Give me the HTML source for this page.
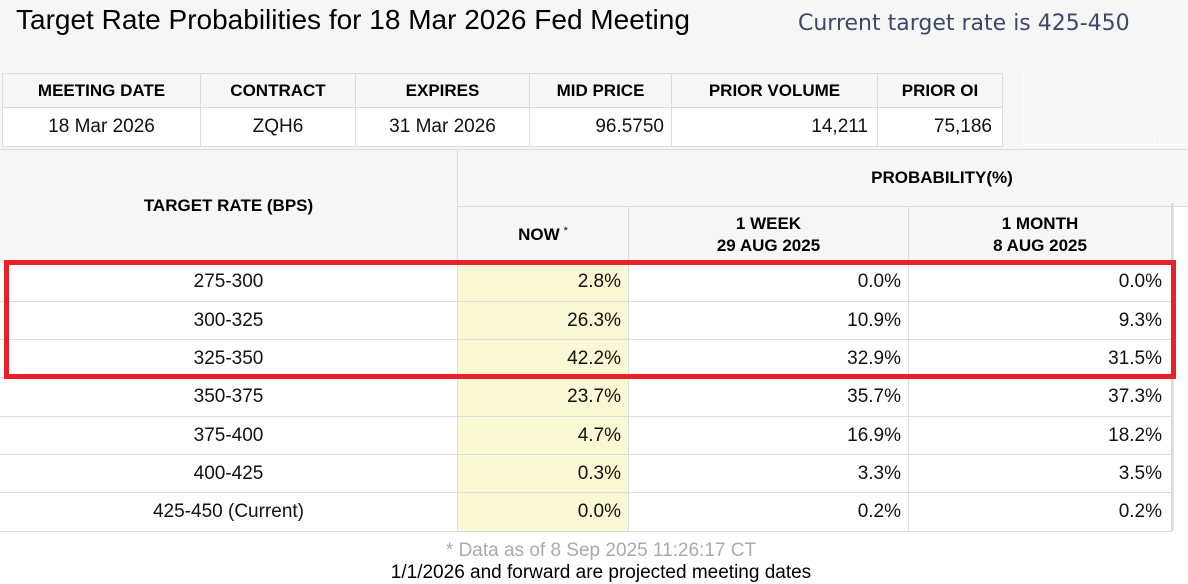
<!DOCTYPE html>
<html><head><meta charset="utf-8">
<style>
html,body{margin:0;padding:0;}
body{width:1188px;height:584px;overflow:hidden;background:#f6f6f6;position:relative;font-family:"Liberation Sans",Arial,sans-serif;color:#000;}
.a{position:absolute;box-sizing:border-box;}
.c{position:absolute;box-sizing:border-box;border:1px solid #dddddd;display:flex;align-items:center;justify-content:center;font-size:19px;color:#111;white-space:nowrap;}
.h{font-weight:bold;font-size:17px;color:#000;background:#f6f6f6;text-align:center;line-height:22px;}
.w{background:#fff;}
.y{background:#f8f8d4;}
.r{justify-content:flex-end;}
</style></head><body>

<div class="a" style="left:16px;top:4px;font-size:28px;line-height:32px;white-space:nowrap;color:#000;">Target Rate Probabilities for 18 Mar 2026 Fed Meeting</div>
<div class="a" style="left:798px;top:11px;font-family:'DejaVu Sans',sans-serif;font-size:22px;line-height:26px;white-space:nowrap;color:#3d4868;">Current target rate is 425-450</div>

<!-- top table -->
<div class="c h" style="left:2px;top:73px;width:199px;height:35px;">MEETING DATE</div>
<div class="c h" style="left:200px;top:73px;width:156px;height:35px;">CONTRACT</div>
<div class="c h" style="left:355px;top:73px;width:175px;height:35px;">EXPIRES</div>
<div class="c h" style="left:529px;top:73px;width:143px;height:35px;">MID PRICE</div>
<div class="c h" style="left:671px;top:73px;width:207px;height:35px;">PRIOR VOLUME</div>
<div class="c h" style="left:877px;top:73px;width:126px;height:35px;">PRIOR OI</div>

<div class="c w" style="left:2px;top:107px;width:199px;height:40px;">18 Mar 2026</div>
<div class="c w" style="left:200px;top:107px;width:156px;height:40px;">ZQH6</div>
<div class="c w" style="left:355px;top:107px;width:175px;height:40px;">31 Mar 2026</div>
<div class="c w r" style="left:529px;top:107px;width:143px;height:40px;padding-right:7px;">96.5750</div>
<div class="c w r" style="left:671px;top:107px;width:207px;height:40px;padding-right:9px;">14,211</div>
<div class="c w r" style="left:877px;top:107px;width:126px;height:40px;padding-right:10px;">75,186</div>

<!-- faint right box -->
<div class="a" style="left:1022px;top:71px;width:1px;height:75px;background:#fff;"></div>
<div class="a" style="left:1022px;top:144px;width:166px;height:1px;background:#fff;"></div>
<div class="a" style="left:1154px;top:138px;width:1px;height:7px;background:#fff;"></div>

<!-- white areas -->
<div class="a" style="left:1174px;top:203px;width:14px;height:381px;background:#fff;"></div>
<div class="a" style="left:0;top:531px;width:1188px;height:53px;background:#fff;"></div>

<!-- prob table headers -->
<div class="c h" style="left:-1px;top:149px;width:459px;height:114px;">TARGET RATE (BPS)</div>
<div class="c h" style="left:457px;top:149px;width:970px;height:58px;">PROBABILITY(%)</div>
<div class="c h" style="left:457px;top:206px;width:172px;height:57px;">NOW<sup style="font-size:11px;position:relative;top:-4px;margin-left:4px;font-weight:normal;">*</sup></div>
<div class="c h" style="left:628px;top:206px;width:281px;height:57px;">1 WEEK<br>29 AUG 2025</div>
<div class="c h" style="left:908px;top:206px;width:264px;height:57px;">1 MONTH<br>8 AUG 2025</div>

<!-- rows -->
<div class="c w" style="left:-1px;top:262px;width:459px;height:40px;">275-300</div>
<div class="c y r" style="left:457px;top:262px;width:172px;height:40px;padding-right:7px;">2.8%</div>
<div class="c w r" style="left:628px;top:262px;width:281px;height:40px;padding-right:7px;">0.0%</div>
<div class="c w r" style="left:908px;top:262px;width:264px;height:40px;padding-right:9px;">0.0%</div>

<div class="c w" style="left:-1px;top:301px;width:459px;height:39px;">300-325</div>
<div class="c y r" style="left:457px;top:301px;width:172px;height:39px;padding-right:7px;">26.3%</div>
<div class="c w r" style="left:628px;top:301px;width:281px;height:39px;padding-right:7px;">10.9%</div>
<div class="c w r" style="left:908px;top:301px;width:264px;height:39px;padding-right:9px;">9.3%</div>

<div class="c w" style="left:-1px;top:339px;width:459px;height:39px;">325-350</div>
<div class="c y r" style="left:457px;top:339px;width:172px;height:39px;padding-right:7px;">42.2%</div>
<div class="c w r" style="left:628px;top:339px;width:281px;height:39px;padding-right:7px;">32.9%</div>
<div class="c w r" style="left:908px;top:339px;width:264px;height:39px;padding-right:9px;">31.5%</div>

<div class="c w" style="left:-1px;top:377px;width:459px;height:40px;">350-375</div>
<div class="c y r" style="left:457px;top:377px;width:172px;height:40px;padding-right:7px;">23.7%</div>
<div class="c w r" style="left:628px;top:377px;width:281px;height:40px;padding-right:7px;">35.7%</div>
<div class="c w r" style="left:908px;top:377px;width:264px;height:40px;padding-right:9px;">37.3%</div>

<div class="c w" style="left:-1px;top:416px;width:459px;height:39px;">375-400</div>
<div class="c y r" style="left:457px;top:416px;width:172px;height:39px;padding-right:7px;">4.7%</div>
<div class="c w r" style="left:628px;top:416px;width:281px;height:39px;padding-right:7px;">16.9%</div>
<div class="c w r" style="left:908px;top:416px;width:264px;height:39px;padding-right:9px;">18.2%</div>

<div class="c w" style="left:-1px;top:454px;width:459px;height:39px;">400-425</div>
<div class="c y r" style="left:457px;top:454px;width:172px;height:39px;padding-right:7px;">0.3%</div>
<div class="c w r" style="left:628px;top:454px;width:281px;height:39px;padding-right:7px;">3.3%</div>
<div class="c w r" style="left:908px;top:454px;width:264px;height:39px;padding-right:9px;">3.5%</div>

<div class="c w" style="left:-1px;top:492px;width:459px;height:40px;">425-450 (Current)</div>
<div class="c y r" style="left:457px;top:492px;width:172px;height:40px;padding-right:7px;">0.0%</div>
<div class="c w r" style="left:628px;top:492px;width:281px;height:40px;padding-right:7px;">0.2%</div>
<div class="c w r" style="left:908px;top:492px;width:264px;height:40px;padding-right:9px;">0.2%</div>

<!-- shadow line -->
<div class="a" style="left:1171px;top:203px;width:3px;height:328px;background:linear-gradient(to right,#d4d4d4,#e9e9e9);"></div>

<!-- red box -->
<div class="a" style="left:4px;top:260px;width:1172px;height:119px;border:5px solid #e8202a;"></div>

<!-- footer -->
<div class="a" style="left:301px;top:540px;width:600px;text-align:center;font-size:19px;line-height:22px;color:#aaaaaa;white-space:nowrap;">* Data as of 8 Sep 2025 11:26:17 CT</div>
<div class="a" style="left:301px;top:562px;width:600px;text-align:center;font-size:19px;line-height:22px;color:#000;white-space:nowrap;">1/1/2026 and forward are projected meeting dates</div>

</body></html>
